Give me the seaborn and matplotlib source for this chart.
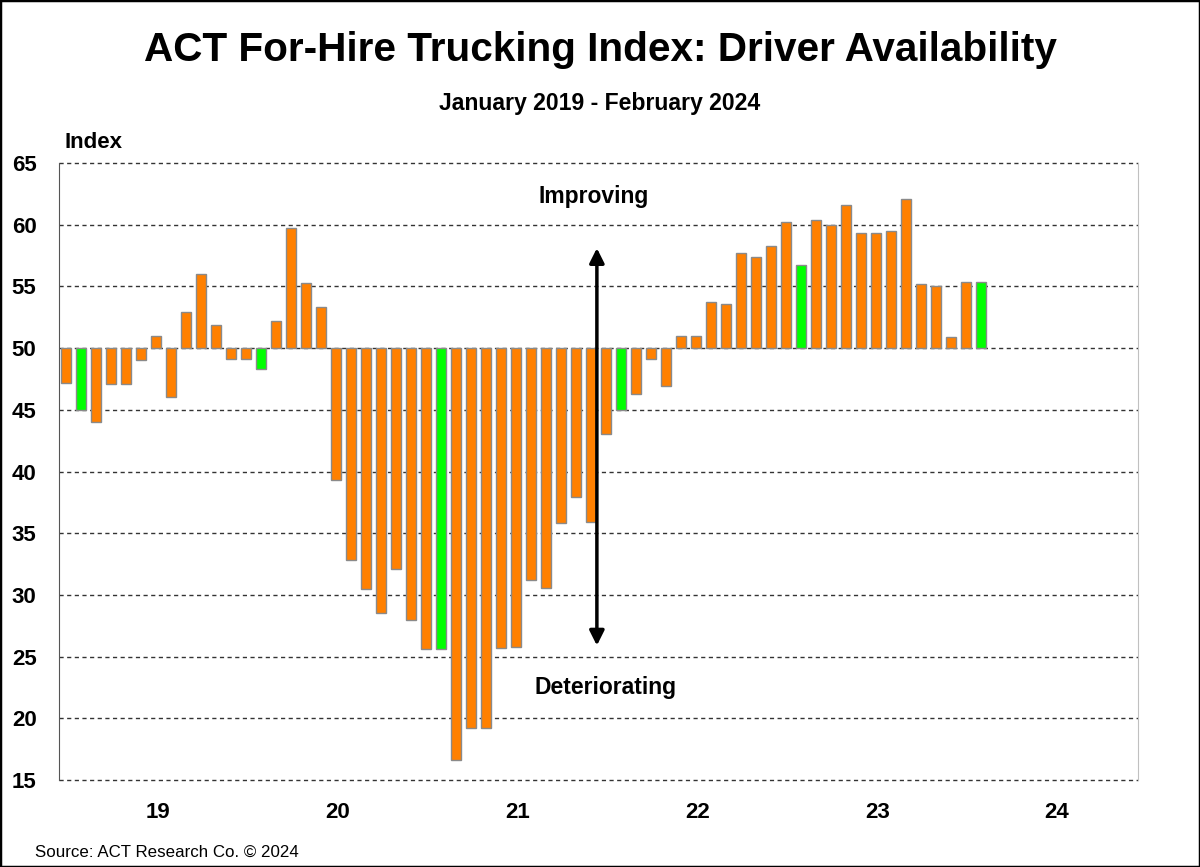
import numpy as np
import pandas as pd
import matplotlib.pyplot as plt
import seaborn as sns
from matplotlib.patches import Rectangle

# ── Data ─────────────────────────────────────────────────────────────────────
months = pd.date_range("2019-01-01", "2024-02-01", freq="MS")
index_vals = [
    47.2, 45.0, 44.0, 47.1, 47.1, 49.0, 51.0, 46.0, 52.9, 56.0, 51.9, 49.1,   # 2019
    49.1, 48.3, 52.2, 59.7, 55.3, 53.3, 39.3, 32.8, 30.5, 28.5, 32.1, 28.0,   # 2020
    25.6, 25.6, 16.6, 19.2, 19.2, 25.7, 25.8, 31.2, 30.6, 35.8, 37.9, 35.9,   # 2021
    43.0, 45.0, 46.3, 49.1, 46.9, 51.0, 51.0, 53.7, 53.6, 57.7, 57.4, 58.3,   # 2022
    60.2, 56.7, 60.35, 60.0, 61.6, 59.3, 59.3, 59.5, 62.05, 55.2, 55.0, 50.9, # 2023
    55.35, 55.35,                                                               # 2024
]
year_labels = ["19", "20", "21", "22", "23", "24"]
y_ticks = [15, 20, 25, 30, 35, 40, 45, 50, 55, 60, 65]

BASE = 50
ORANGE, GREEN = "#FF8000", "#00FF00"

df = pd.DataFrame({"month": months, "value": index_vals})
df["pos"] = np.arange(len(df))
df["delta"] = df["value"] - BASE
df["kind"] = np.where(df["month"].dt.month == 2, "feb", "other")

# ── Figure ───────────────────────────────────────────────────────────────────
sns.set_style("white")
plt.rcParams["font.family"] = ["Liberation Sans", "DejaVu Sans"]
for key in ["text.color", "axes.labelcolor", "xtick.color", "ytick.color"]:
    plt.rcParams[key] = "black"

fig = plt.figure(figsize=(12, 8.67), dpi=100)
ax = fig.add_axes([0.049, 0.1003, 0.8993, 0.7117])

sns.barplot(data=df, x="pos", y="delta", hue="kind", bottom=BASE,
            palette={"other": ORANGE, "feb": GREEN}, dodge=False, saturation=1,
            native_scale=True, width=0.67, edgecolor="#8a8a8a", linewidth=1,
            legend=False, ax=ax, zorder=3)

ax.set_xlim(-0.5, 71.5)
ax.set_ylim(15, 65)
ax.set_yticks(y_ticks)
ax.set_yticklabels([str(t) for t in y_ticks], fontsize=16, fontweight="bold")
ax.set_xticks([12 * i + 6.1 for i in range(len(year_labels))])
ax.set_xticklabels(year_labels, fontsize=16, fontweight="bold")
ax.tick_params(axis="both", length=0)
ax.tick_params(axis="y", pad=16)
ax.tick_params(axis="x", pad=16)
ax.set_xlabel("")
ax.set_ylabel("")

for t in y_ticks:
    ax.axhline(t, color="#333333", lw=1, ls=(0, (3, 2.5)), zorder=1, clip_on=False)

for side in ["top", "bottom"]:
    ax.spines[side].set_visible(False)
ax.spines["left"].set_color("#555555")
ax.spines["right"].set_color("#c0c0c0")

# Improving / Deteriorating arrow
ax.annotate("", xy=(35.4, 58.1), xytext=(35.4, 25.9),
            arrowprops=dict(arrowstyle="<|-|>", color="black", lw=2.5,
                            mutation_scale=22, shrinkA=0, shrinkB=0), zorder=5)
ax.text(35.2, 62.3, "Improving", ha="center", va="center", fontsize=16.5,
        fontweight="bold")
ax.text(36.0, 22.5, "Deteriorating", ha="center", va="center", fontsize=16.5,
        fontweight="bold")

# ── Titles & notes ───────────────────────────────────────────────────────────
fig.text(0.5, 0.9296, "ACT For-Hire Trucking Index: Driver Availability",
         ha="center", va="baseline", fontsize=29.2, fontweight="bold")
fig.text(0.5, 0.881, "January 2019 - February 2024", ha="center", va="center",
         fontsize=16.6, fontweight="bold")
fig.text(0.054, 0.836, "Index", ha="left", va="center", fontsize=16, fontweight="bold")
fig.text(0.029, 0.017, "Source: ACT Research Co. \u00a9 2024", ha="left", va="center",
         fontsize=12.2)

fig.patches.append(Rectangle((0, 0), 1, 1, transform=fig.transFigure, fill=False,
                             edgecolor="black", lw=2.5, zorder=10))

fig.savefig("out.png", dpi=100)
